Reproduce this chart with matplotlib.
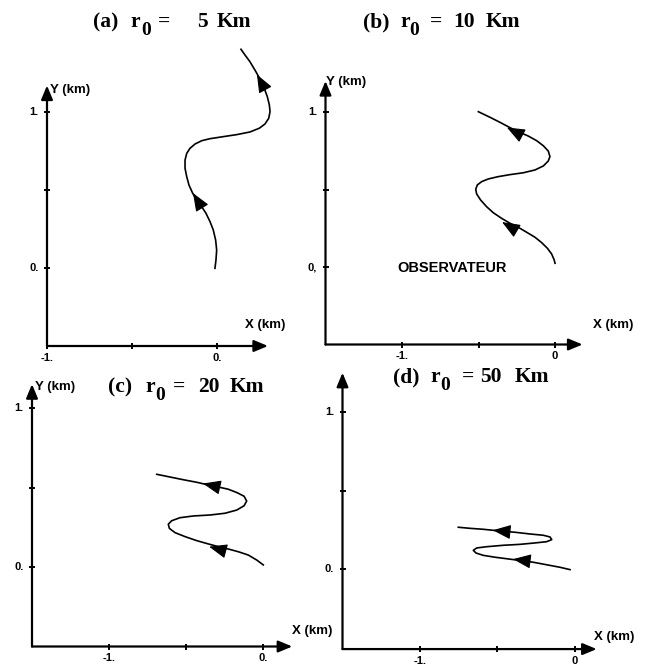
import matplotlib
matplotlib.use('Agg')
import matplotlib.pyplot as plt
import numpy as np
from matplotlib.patches import FancyArrowPatch

# ---------------- data (km) ----------------
# title tokens: (text, left x px, is_subscript)
title_a = [('(a)', 93, False), ('r', 130, False), ('0', 142, True), ('=', 158, False), ('5', 197, False), ('Km', 217, False)]
title_b = [('(b)', 363, False), ('r', 400, False), ('0', 410, True), ('=', 430, False), ('10', 453, False), ('Km', 486, False)]
title_c = [('(c)', 108, False), ('r', 145, False), ('0', 156, True), ('=', 173, False), ('20', 198, False), ('Km', 230, False)]
title_d = [('(d)', 393, False), ('r', 430, False), ('0', 441, True), ('=', 462, False), ('50', 480, False), ('Km', 515, False)]
titles = [title_a, title_b, title_c, title_d]
title_baseline = [27, 27, 392, 382]

xticks = [-1.0, -0.5, 0.0]
yticks = [0.0, 0.5, 1.0]
xtick_labels = [['-1.', '', '0.'], ['-1.', '', '0'], ['-1.', '', '0.'], ['-1.', '', '0']]
ytick_labels = [['0.', '', '1.'], ['0,', '', '1.'], ['0.', '', '1.'], ['0.', '', '1.']]

traj_a_x = [-0.012, -0.006, -0.002, -0.008, -0.022, -0.041, -0.065, -0.090, -0.119, -0.143,
            -0.165, -0.178, -0.188, -0.188, -0.178, -0.159, -0.129, -0.090, -0.041, 0.037,
            0.116, 0.194, 0.249, 0.282, 0.304, 0.312, 0.308, 0.296, 0.278, 0.253,
            0.229, 0.194, 0.165, 0.141]
traj_a_y = [-0.002, 0.051, 0.115, 0.179, 0.244, 0.297, 0.351, 0.393, 0.436, 0.479,
            0.532, 0.585, 0.639, 0.692, 0.735, 0.767, 0.795, 0.816, 0.829, 0.842,
            0.855, 0.872, 0.896, 0.923, 0.959, 1.002, 1.045, 1.098, 1.152, 1.210,
            1.258, 1.322, 1.365, 1.402]

traj_b_x = [0.000, -0.005, -0.022, -0.050, -0.087, -0.131, -0.185, -0.240, -0.294, -0.349,
            -0.403, -0.447, -0.486, -0.512, -0.518, -0.508, -0.479, -0.436, -0.371, -0.294,
            -0.207, -0.131, -0.076, -0.044, -0.033, -0.044, -0.076, -0.120, -0.175, -0.240,
            -0.294, -0.359, -0.425, -0.501]
traj_b_y = [0.024, 0.045, 0.084, 0.121, 0.157, 0.192, 0.224, 0.256, 0.282, 0.314,
            0.350, 0.389, 0.432, 0.471, 0.501, 0.529, 0.551, 0.568, 0.583, 0.596,
            0.608, 0.626, 0.652, 0.684, 0.712, 0.748, 0.782, 0.815, 0.845, 0.873,
            0.899, 0.933, 0.966, 1.002]

traj_c_x = [0.002, -0.041, -0.095, -0.160, -0.225, -0.290, -0.355, -0.431, -0.506, -0.571,
            -0.608, -0.615, -0.593, -0.539, -0.452, -0.344, -0.247, -0.171, -0.123, -0.106,
            -0.123, -0.167, -0.225, -0.290, -0.355, -0.431, -0.518, -0.604, -0.690]
traj_c_y = [0.013, 0.044, 0.075, 0.096, 0.113, 0.128, 0.145, 0.166, 0.191, 0.216,
            0.243, 0.269, 0.291, 0.310, 0.321, 0.327, 0.338, 0.358, 0.385, 0.415,
            0.445, 0.467, 0.489, 0.503, 0.516, 0.533, 0.549, 0.566, 0.583]

traj_d_x = [-0.032, -0.097, -0.183, -0.269, -0.344, -0.430, -0.516, -0.592, -0.639, -0.656,
            -0.634, -0.570, -0.463, -0.355, -0.258, -0.183, -0.150, -0.161, -0.205, -0.290,
            -0.387, -0.484, -0.592, -0.677, -0.753]
traj_d_y = [-0.004, 0.011, 0.027, 0.043, 0.053, 0.064, 0.075, 0.087, 0.102, 0.119,
            0.134, 0.142, 0.151, 0.157, 0.166, 0.174, 0.187, 0.204, 0.215, 0.223,
            0.234, 0.242, 0.253, 0.259, 0.266]

arrows_a = [(-0.141, 0.48), (0.235, 1.24)]
arrows_b = [(-0.346, 0.29), (-0.314, 0.90)]
arrows_c = [(-0.35, 0.128), (-0.39, 0.525)]
arrows_d = [(-0.40, 0.063), (-0.53, 0.247)]

trajs = [(traj_a_x, traj_a_y, arrows_a), (traj_b_x, traj_b_y, arrows_b),
         (traj_c_x, traj_c_y, arrows_c), (traj_d_x, traj_d_y, arrows_d)]

# ---------------- layout (pixels) ----------------
W, H = 647, 668
fig = plt.figure(figsize=(6.47, 6.68), dpi=100)

# x0px, sx, y0px, sy, yaxis_x, xaxis_y, y_top, x_right
layouts = [
    (217, 170, 268, 156, -1.0, -0.5, 1.17, 0.30),
    (555, 153, 267, 155, -1.5, -0.5, 1.20, 0.18),
    (263, 154, 567, 159, -1.5, -0.5, 1.15, 0.19),
    (575, 155, 569, 157, -1.5, -0.51, 1.25, 0.14),
]
ylab_pos = [(50, 90), (326, 82), (35, 387), None]
xlab_pos = [(265, 325), (613, 325), (312, 631), (614, 637)]

XLIM = (-1.75, 0.6)
YLIM = (-0.7, 1.5)


def px_axes(x0, sx, y0, sy):
    left = x0 + XLIM[0] * sx
    right = x0 + XLIM[1] * sx
    top = y0 - YLIM[1] * sy
    bottom = y0 - YLIM[0] * sy
    ax = fig.add_axes([left / W, 1 - bottom / H, (right - left) / W, (bottom - top) / H])
    ax.set_xlim(XLIM)
    ax.set_ylim(YLIM)
    ax.set_axis_off()
    return ax


tick_font = dict(family='Liberation Sans', weight='bold', fontsize=8)
lab_font = dict(family='Liberation Sans', weight='bold', fontsize=9.5)
title_font = dict(family='Liberation Serif', weight='bold', fontsize=15.5)
sub_font = dict(family='Liberation Serif', weight='bold', fontsize=14)

for i, (lay, (tx, ty, arrs)) in enumerate(zip(layouts, trajs)):
    x0, sx, y0, sy, yax, xax, ytop, xright = lay
    ax = px_axes(x0, sx, y0, sy)
    # axes with arrows
    ax.add_patch(FancyArrowPatch((yax, xax), (yax, ytop), arrowstyle='-|>,head_length=0.6,head_width=0.25',
                                 mutation_scale=14, lw=1.6, color='black', shrinkA=0, shrinkB=0))
    ax.add_patch(FancyArrowPatch((yax, xax), (xright, xax), arrowstyle='-|>,head_length=0.6,head_width=0.25',
                                 mutation_scale=14, lw=1.6, color='black', shrinkA=0, shrinkB=0))
    # ticks
    ax.plot([yax] * len(yticks), yticks, ls='none', marker='_', ms=5, mew=1.4, color='black')
    ax.plot(xticks, [xax] * len(xticks), ls='none', marker='|', ms=5, mew=1.4, color='black')
    for v, lab in zip(yticks, ytick_labels[i]):
        if lab:
            ax.annotate(lab, (yax, v), xytext=(-6, 0), textcoords='offset points',
                        ha='right', va='center', **tick_font)
    for v, lab in zip(xticks, xtick_labels[i]):
        if lab:
            ax.annotate(lab, (v, xax), xytext=(0, -5), textcoords='offset points',
                        ha='center', va='top', **tick_font)
    # trajectory
    ax.plot(tx, ty, color='black', lw=1.2, clip_on=False, solid_joinstyle='round')
    px = np.array(tx); py = np.array(ty)
    for (ax_x, ax_y) in arrs:
        mids_x = (px[:-1] + px[1:]) / 2
        mids_y = (py[:-1] + py[1:]) / 2
        k = int(np.argmin(((mids_x - ax_x) * sx) ** 2 + ((mids_y - ax_y) * sy) ** 2))
        dx = (px[k + 1] - px[k]) * sx
        dy = (py[k + 1] - py[k]) * sy
        n = np.hypot(dx, dy)
        L = 12.0
        tail = (ax_x - dx / n * L / sx, ax_y - dy / n * L / sy)
        ax.add_patch(FancyArrowPatch(tail, (ax_x, ax_y),
                                     arrowstyle='-|>,head_length=0.8,head_width=0.32',
                                     mutation_scale=14, lw=0.8, color='black',
                                     shrinkA=0, shrinkB=0))
    # axis labels
    if ylab_pos[i] is not None:
        fig.text(ylab_pos[i][0] / W, 1 - ylab_pos[i][1] / H, 'Y (km)', ha='left', va='center', **lab_font)
    fig.text(xlab_pos[i][0] / W, 1 - xlab_pos[i][1] / H, 'X (km)', ha='center', va='center', **lab_font)
    # title tokens
    base = title_baseline[i]
    for (tok, xl, sub) in titles[i]:
        if sub:
            fig.text((xl - 1) / W, 1 - (base + 8) / H, tok, ha='left', va='baseline', **sub_font)
        else:
            fig.text(xl / W, 1 - base / H, tok, ha='left', va='baseline', **title_font)

fig.text(452 / W, 1 - 268 / H, 'OBSERVATEUR', ha='center', va='center',
         family='Liberation Sans', weight='bold', fontsize=10.5)

fig.savefig('out.png', dpi=100)
